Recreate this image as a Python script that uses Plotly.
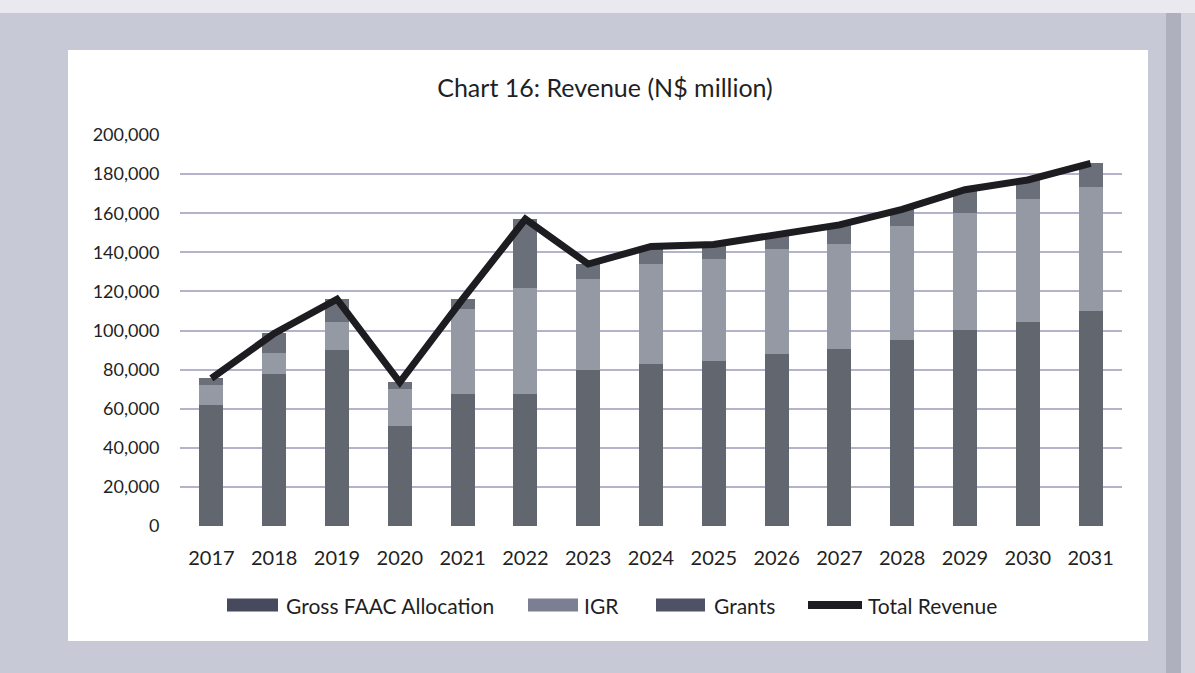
import plotly.graph_objects as go

# Revenue components (N$ million)
years = ["2017", "2018", "2019", "2020", "2021", "2022", "2023", "2024",
         "2025", "2026", "2027", "2028", "2029", "2030", "2031"]
gross_faac = [62000, 78000, 90000, 51000, 67500, 67500, 80000, 83000,
              84500, 88000, 90500, 95000, 100500, 104500, 110000]
igr = [10000, 10500, 14500, 19000, 43500, 54000, 46500, 51000,
       52000, 53500, 54000, 58500, 59500, 63000, 63500]
grants = [3500, 10000, 11500, 3500, 5000, 35500, 7500, 9000,
          7500, 7500, 9500, 8500, 12000, 9500, 12000]
total_revenue = [f + i + g for f, i, g in zip(gross_faac, igr, grants)]

y_ticks = [0, 20000, 40000, 60000, 80000, 100000, 120000, 140000,
           160000, 180000, 200000]

W, H = 1195, 673
ML, MR, MT, MB = 180, 73, 135, 147
PW, PH = W - ML - MR, H - MT - MB


def px(x):
    return (x - ML) / PW


def py(y):
    return (H - MB - y) / PH


FONT = "Lato"
TXT = "#1f1f24"

C_FAAC, C_IGR, C_GRANTS, C_TOTAL = "#62666f", "#9499a3", "#6b6f79", "#1c1c21"

fig = go.Figure()
fig.add_trace(go.Bar(x=years, y=gross_faac, name="Gross FAAC Allocation",
                     marker=dict(color=C_FAAC, line=dict(width=0))))
fig.add_trace(go.Bar(x=years, y=igr, name="IGR",
                     marker=dict(color=C_IGR, line=dict(width=0))))
fig.add_trace(go.Bar(x=years, y=grants, name="Grants",
                     marker=dict(color=C_GRANTS, line=dict(width=0))))
fig.add_trace(go.Scatter(x=years, y=total_revenue, name="Total Revenue",
                         mode="lines", line=dict(color=C_TOTAL, width=7)))

shapes = [
    # white chart panel on the grey page
    dict(type="rect", xref="paper", yref="paper", layer="below",
         x0=px(68), x1=px(1148), y0=py(641), y1=py(50),
         fillcolor="white", line=dict(width=0)),
    # light strip along the top edge of the page
    dict(type="rect", xref="paper", yref="paper", layer="below",
         x0=px(0), x1=px(W), y0=py(13), y1=py(0),
         fillcolor="#e9e9ef", line=dict(width=0)),
    # darker strip along the right edge
    dict(type="rect", xref="paper", yref="paper", layer="below",
         x0=px(1166), x1=px(1181), y0=py(H), y1=py(13),
         fillcolor="#aeb0bd", line=dict(width=0)),
    dict(type="rect", xref="paper", yref="paper", layer="below",
         x0=px(1181), x1=px(W), y0=py(H), y1=py(13),
         fillcolor="#d3d4dd", line=dict(width=0)),
]

# Legend row: wide swatches followed by their labels
legend_y = 605
legend_items = [
    ("rect", 227, 278, "#474a5c", 284, "Gross FAAC Allocation"),
    ("rect", 528, 578, "#7c7e92", 582, "IGR"),
    ("rect", 656, 705, "#4f5265", 712, "Grants"),
    ("line", 808, 862, C_TOTAL, 866, "Total Revenue"),
]
annotations = []
for kind, x0, x1, col, tx, label in legend_items:
    if kind == "rect":
        shapes.append(dict(type="rect", xref="paper", yref="paper",
                           x0=px(x0), x1=px(x1),
                           y0=py(legend_y + 6.5), y1=py(legend_y - 6.5),
                           fillcolor=col, line=dict(width=0)))
    else:
        shapes.append(dict(type="line", xref="paper", yref="paper",
                           x0=px(x0), x1=px(x1),
                           y0=py(legend_y), y1=py(legend_y),
                           line=dict(color=col, width=8)))
    annotations.append(dict(text=label, xref="paper", yref="paper",
                            x=px(tx), y=py(legend_y), xanchor="left",
                            yanchor="middle", showarrow=False,
                            font=dict(family=FONT, size=21, color=TXT)))

fig.update_layout(
    width=W, height=H,
    margin=dict(l=ML, r=MR, t=MT, b=MB),
    paper_bgcolor="#c7c9d6",
    plot_bgcolor="white",
    barmode="stack",
    bargap=0.62,
    shapes=shapes,
    annotations=annotations,
    showlegend=False,
    title=dict(text="Chart 16: Revenue (N$ million)", x=605 / W, xanchor="center",
               y=1 - 88 / H, yanchor="middle",
               font=dict(family=FONT, size=25, color=TXT)),
    font=dict(family=FONT, color=TXT),
    xaxis=dict(type="category", showgrid=False, zeroline=False,
               showline=False, ticks="outside", ticklen=14,
               tickcolor="rgba(0,0,0,0)",
               tickfont=dict(family=FONT, size=20, color=TXT)),
    yaxis=dict(range=[0, 200000], tickvals=y_ticks,
               ticktext=[f"{v:,}" for v in y_ticks],
               showgrid=True, gridcolor="#b3b3cc", gridwidth=1.5,
               zeroline=False, showline=False,
               ticks="outside", ticklen=16, tickcolor="rgba(0,0,0,0)",
               tickfont=dict(family=FONT, size=18, color=TXT)),
)

fig.write_html("out.html")
